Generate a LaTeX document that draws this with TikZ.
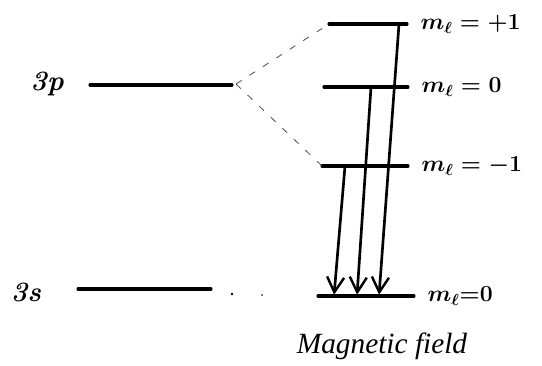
\documentclass[tikz,border=0pt]{standalone}
\usepackage{fontspec}
\usepackage{amsmath}
\usetikzlibrary{arrows.meta,positioning}
\newfontfamily\captionfont{Liberation Serif}
\tikzset{
  level/.style={line width=2.3pt, line cap=round},
  split/.style={dash pattern=on 5pt off 7pt, line width=0.6pt, black!70},
  transition/.style={-{Straight Barb[length=4mm,width=4.5mm,line width=1.8pt]}, line width=2pt, shorten >=1pt},
  mlabel/.style={anchor=west, inner sep=0pt, font=\fontsize{18}{22}\selectfont\boldmath},
  termlabel/.style={inner sep=0pt, font=\fontsize{21}{24}\selectfont\bfseries\itshape},
}

\begin{document}
\begin{tikzpicture}[x=0.75pt, y=-0.75pt]
  \useasboundingbox (0,0) rectangle (542,365);

  % zero-field terms
  \node[termlabel] (p) at (47,84) {3p};
  \node[termlabel] (s) at (26,292) {3s};
  \coordinate (pL) at (90,85);  \coordinate (pR) at (232,85);
  \coordinate (sL) at (78,289); \coordinate (sR) at (211,289);
  \draw[level] (pL) -- (pR);
  \draw[level] (sL) -- (sR);

  % split levels
  \coordinate (u1) at (329,24);  \coordinate (u2) at (407,24);
  \coordinate (z1) at (324,87);  \coordinate (z2) at (408,87);
  \coordinate (d1) at (322,166); \coordinate (d2) at (408,166);
  \coordinate (g1) at (318,296); \coordinate (g2) at (414,296);
  \foreach \a/\b in {u1/u2,z1/z2,d1/d2,g1/g2}
    \draw[level] (\a) -- (\b);

  \node[mlabel, right=10pt of u2] (mu) {$m_\ell = +1$};
  \node[mlabel, right=10pt of z2] (mz) {$m_\ell = 0$};
  \node[mlabel, right=10pt of d2] (md) {$m_\ell = -1$};
  \node[mlabel, right=10pt of g2] (mg) {$m_\ell{=}0$};

  % fan out of 3p
  \coordinate (f0) at (236,84);
  \draw[split] (f0) -- (u1);
  \draw[split] (f0) -- (d1);

  % faint dots beside 3s
  \coordinate (dot1) at (232,294);
  \coordinate (dot2) at (262,295);
  \fill (dot1) circle (1.3);
  \fill (dot2) circle (0.8);

  % transitions
  \coordinate (t1) at (399,24);  \coordinate (b1) at (379,296);
  \coordinate (t2) at (371,87);  \coordinate (b2) at (357,296);
  \coordinate (t3) at (345,166); \coordinate (b3) at (334,296);
  \foreach \a/\b in {t1/b1,t2/b2,t3/b3}
    \draw[transition] (\a) -- (\b);

  \node[font=\captionfont\itshape\fontsize{22}{26}\selectfont] (cap) at (382,346) {Magnetic field};
\end{tikzpicture}
\end{document}
